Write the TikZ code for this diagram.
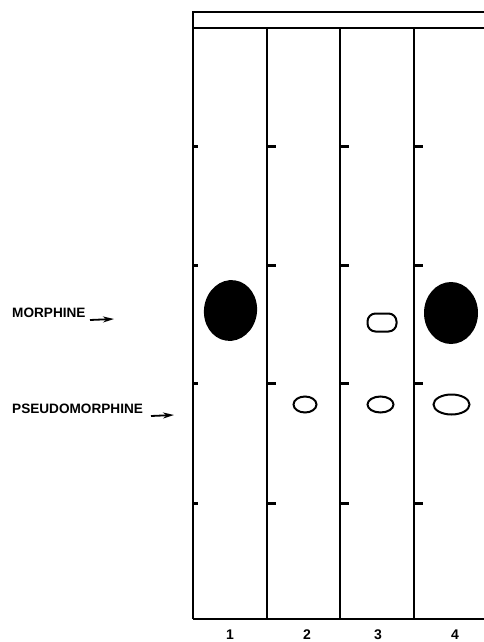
\documentclass[tikz,border=0pt]{standalone}
\usepackage{fontspec}
\setmainfont{Liberation Sans}
\usetikzlibrary{shapes.geometric,arrows.meta}
\begin{document}
\begin{tikzpicture}[x=1pt,y=-1pt,
  frameline/.style={line width=2.9pt},
  tick/.style={line width=3pt},
  lbl/.style={font=\bfseries\fontsize{13.6}{15}\selectfont, inner sep=0pt, anchor=west},
  lanenum/.style={font=\bfseries\fontsize{14}{16}\selectfont, inner sep=0pt, anchor=base},
  solidspot/.style={ellipse, fill=black, inner sep=0pt},
  openspot/.style={ellipse, draw, line width=2pt, inner sep=0pt},
  pointer/.style={line width=1.8pt, -{Stealth[length=11pt,width=6pt]}}
]
\clip (0,0) rectangle (484,642);
\fill[white] (0,0) rectangle (484,642);
% frame
\draw[frameline] (193,619) -- (193,12) -- (495,12);
\draw[frameline] (193,28) -- (495,28);
\draw[frameline] (193,619) -- (495,619);
\foreach \x in {267,340,414} \draw[frameline] (\x,28) -- (\x,619);
% ticks
\foreach \y in {146,265,383,503} {
  \foreach \x in {267,340,414} \draw[tick] (\x,\y) -- (\x+9,\y);
  \draw[tick] (193,\y) -- (198,\y);
}
% spots
\node[solidspot, minimum width=53, minimum height=61, rotate=-8] (m1) at (230.5,310.5) {};
\node[solidspot, minimum width=54, minimum height=62] (m4) at (451,313) {};
\node[draw, line width=2pt, rounded corners=8pt, minimum width=29, minimum height=18, inner sep=0pt] (m3) at (382,322.5) {};
\node[openspot, minimum width=23, minimum height=16] (p2) at (305,404.5) {};
\node[openspot, minimum width=26, minimum height=16] (p3) at (380.5,404.5) {};
\node[openspot, minimum width=36, minimum height=20] (p4) at (451.5,404.5) {};
% labels
\node[lbl] (morph) at (12,313) {MORPHINE};
\node[lbl] (pseudo) at (12,409) {PSEUDOMORPHINE};
\coordinate (ma1) at (90,320);
\coordinate (ma2) at (114,319);
\coordinate (pa1) at (151,416);
\coordinate (pa2) at (174,415);
\draw[pointer] (ma1) -- (ma2);
\draw[pointer] (pa1) -- (pa2);
% lane numbers
\node[lanenum] (n1) at (230,639) {1};
\node[lanenum] (n2) at (307,639) {2};
\node[lanenum] (n3) at (378,639) {3};
\node[lanenum] (n4) at (455,639) {4};
\end{tikzpicture}
\end{document}
